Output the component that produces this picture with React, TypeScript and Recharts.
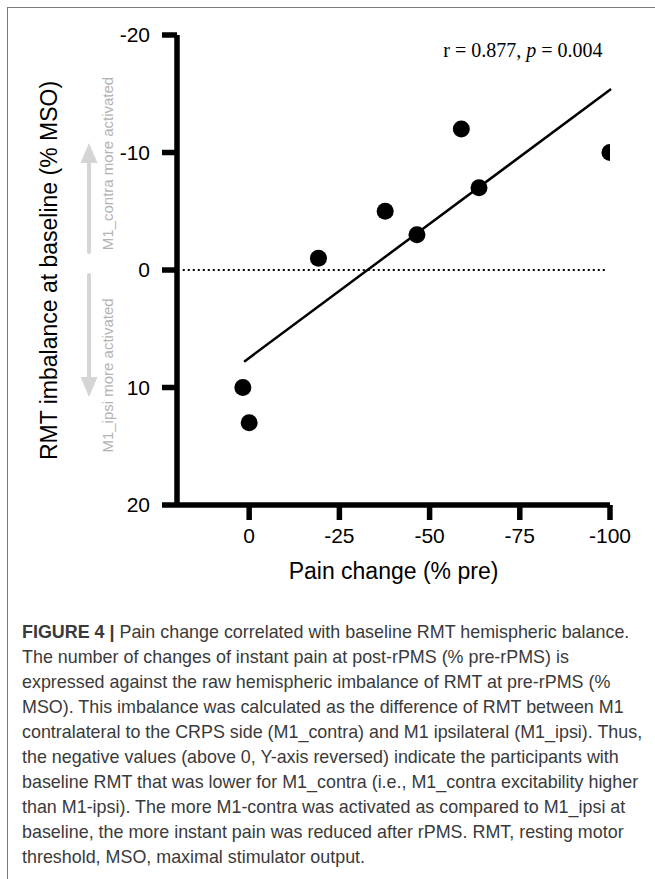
import { ReferenceLine, Scatter, ScatterChart, XAxis, YAxis } from 'recharts'

// values
const painChange = [1.75, 0, -19.2, -37.7, -46.5, -58.8, -63.7, -100]
const rmtImbalance = [10, 13, -1, -5, -3, -12, -7, -10]
const xTicks = [0, -25, -50, -75, -100]
const yTicks = [-20, -10, 0, 10, 20]
const fitX = [1.4, -100.3]
const fitY = [7.8, -15.4]
const zeroLineX = [18.4, -99.1]

const captionLines = [
  'Pain change correlated with baseline RMT hemispheric balance.',
  'The number of changes of instant pain at post-rPMS (% pre-rPMS) is',
  'expressed against the raw hemispheric imbalance of RMT at pre-rPMS (%',
  'MSO). This imbalance was calculated as the difference of RMT between M1',
  'contralateral to the CRPS side (M1_contra) and M1 ipsilateral (M1_ipsi). Thus,',
  'the negative values (above 0, Y-axis reversed) indicate the participants with',
  'baseline RMT that was lower for M1_contra (i.e., M1_contra excitability higher',
  'than M1-ipsi). The more M1-contra was activated as compared to M1_ipsi at',
  'baseline, the more instant pain was reduced after rPMS. RMT, resting motor',
  'threshold, MSO, maximal stimulator output.',
]

const points = painChange.map((x, i) => ({ x, y: rmtImbalance[i] }))

const sans = '"Liberation Sans", Arial, sans-serif'
const tickStyle = { fill: '#000', fontSize: 21, fontFamily: sans }
const axisStroke = { stroke: '#000', strokeWidth: 5.5 }
const hintGray = '#b3b3b3'
const arrowGray = '#d5d5d5'

function Dot(props: any) {
  return <circle cx={props.cx} cy={props.cy} r={8.5} fill="#000" />
}

export default function App() {
  return (
    <div
      style={{
        position: 'absolute',
        left: 0,
        top: 0,
        width: 655,
        height: 879,
        overflow: 'hidden',
        background: '#fff',
        fontFamily: sans,
      }}
    >
      <div
        style={{
          position: 'absolute',
          left: 7,
          top: 7,
          width: 720,
          height: 920,
          border: '1.5px solid #7a7a7a',
        }}
      />
      <div style={{ position: 'absolute', left: 0, top: 0 }}>
        <ScatterChart width={655} height={600} margin={{ top: 35, right: 45, bottom: 0, left: 0 }}>
          <XAxis
            type="number"
            dataKey="x"
            domain={[-100, 20]}
            reversed
            allowDataOverflow
            ticks={xTicks}
            interval={0}
            height={95}
            tickSize={15}
            tickMargin={8}
            tick={tickStyle}
            axisLine={axisStroke}
            tickLine={axisStroke}
          />
          <YAxis
            type="number"
            dataKey="y"
            domain={[-20, 20]}
            reversed
            allowDataOverflow
            ticks={yTicks}
            interval={0}
            width={177}
            tickSize={15}
            tickMargin={12}
            tick={tickStyle}
            axisLine={axisStroke}
            tickLine={axisStroke}
          />
          <ReferenceLine
            segment={[
              { x: zeroLineX[0], y: 0 },
              { x: zeroLineX[1], y: 0 },
            ]}
            stroke="#000"
            strokeWidth={2.2}
            strokeDasharray="2 3"
            ifOverflow="visible"
          />
          <ReferenceLine
            segment={[
              { x: fitX[0], y: fitY[0] },
              { x: fitX[1], y: fitY[1] },
            ]}
            stroke="#000"
            strokeWidth={2.5}
            ifOverflow="visible"
          />
          <Scatter data={points} fill="#000" shape={Dot} isAnimationActive={false} />

          <text
            transform="translate(56.5, 270.5) rotate(-90)"
            textAnchor="middle"
            fontSize={23}
            fontFamily={sans}
            fill="#000"
          >
            RMT imbalance at baseline (% MSO)
          </text>
          <text x={393.5} y={579} textAnchor="middle" fontSize={23} fontFamily={sans} fill="#000">
            Pain change (% pre)
          </text>
          <text
            x={602.5}
            y={56.7}
            textAnchor="end"
            fontSize={20}
            fontFamily='"Liberation Serif", "Times New Roman", serif'
            fill="#000"
          >
            r = 0.877, <tspan fontStyle="italic">p</tspan> = 0.004
          </text>

          <line x1={89} y1={252} x2={89} y2={162} stroke={arrowGray} strokeWidth={4} strokeLinecap="round" />
          <polygon points="80.5,163 97.5,163 89,143" fill={arrowGray} />
          <line x1={89} y1={275} x2={89} y2={378} stroke={arrowGray} strokeWidth={4} strokeLinecap="round" />
          <polygon points="80.5,377 97.5,377 89,397" fill={arrowGray} />
          <text
            transform="translate(112.5, 163.5) rotate(-90)"
            textAnchor="middle"
            fontSize={15}
            fontFamily={sans}
            fill={hintGray}
          >
            M1_contra more activated
          </text>
          <text
            transform="translate(112.5, 375.5) rotate(-90)"
            textAnchor="middle"
            fontSize={15}
            fontFamily={sans}
            fill={hintGray}
          >
            M1_ipsi more activated
          </text>
        </ScatterChart>
      </div>
      <div
        style={{
          position: 'absolute',
          left: 22,
          top: 619.5,
          fontSize: 17.9,
          lineHeight: '25px',
          color: '#3a3a3a',
          whiteSpace: 'nowrap',
        }}
      >
        {captionLines.map((line, i) => (
          <div key={i}>
            {i === 0 && <b>FIGURE 4 | </b>}
            {line}
          </div>
        ))}
      </div>
    </div>
  )
}
